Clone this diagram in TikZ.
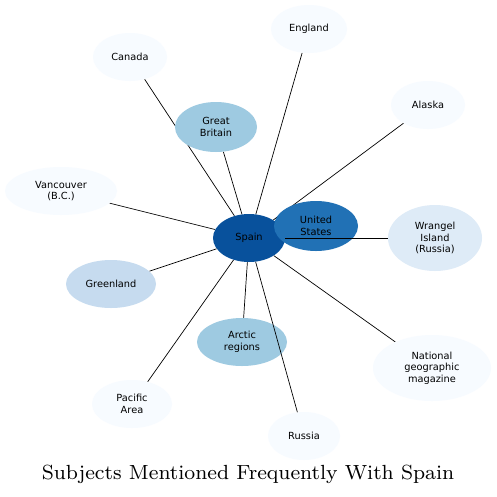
\documentclass[tikz,border=0pt]{standalone}
\usepackage{fontspec}
\newfontfamily\nodefont{DejaVu Sans}
\usetikzlibrary{shapes.geometric}
\pgfdeclarelayer{bg}
\pgfsetlayers{bg,main}
\definecolor{c1}{HTML}{08519C}
\definecolor{c2}{HTML}{2171B5}
\definecolor{c3}{HTML}{9ECAE1}
\definecolor{c4}{HTML}{C6DBEF}
\definecolor{c5}{HTML}{DEEBF7}
\definecolor{c6}{HTML}{F7FBFF}
\tikzset{
  topic/.style={ellipse, inner sep=0pt, align=center,
    font=\nodefont\fontsize{9.8}{11.6}\selectfont, text=black},
  link/.style={draw=black, line width=0.7pt},
}
\begin{document}
\begin{tikzpicture}[x=1pt,y=-1pt]
\useasboundingbox (0,0) rectangle (497,496);
\node[topic, fill=c1, minimum width=72, minimum height=48] (spain) at (249,238) {Spain};
\node[topic, fill=c6, minimum width=76, minimum height=48] (england) at (309,29) {England};
\node[topic, fill=c6, minimum width=74, minimum height=48] (canada) at (130,57) {Canada};
\node[topic, fill=c3, minimum width=82, minimum height=50] (gb) at (216,127) {Great\\Britain};
\node[topic, fill=c6, minimum width=74, minimum height=48] (alaska) at (428,105) {Alaska};
\node[topic, fill=c6, minimum width=112, minimum height=48] (vanc) at (61,191) {Vancouver\\(B.C.)};
\node[topic, fill=c5, minimum width=94, minimum height=66] (wrangel) at (435,238) {Wrangel\\Island\\(Russia)};
\node[topic, fill=c4, minimum width=90, minimum height=48] (greenland) at (111,284) {Greenland};
\node[topic, fill=c3, minimum width=90, minimum height=48] (arctic) at (242,342) {Arctic\\regions};
\node[topic, fill=c6, minimum width=118, minimum height=66] (natgeo) at (432,368) {National\\geographic\\magazine};
\node[topic, fill=c6, minimum width=80, minimum height=48] (pacific) at (132,404) {Pacific\\Area};
\node[topic, fill=c6, minimum width=72, minimum height=48] (russia) at (304,436) {Russia};
\node[topic, fill=c2, minimum width=84, minimum height=50] (us) at (316,226) {United\\States};
\begin{pgfonlayer}{bg}
\fill[white] (0,0) rectangle (497,496);
\foreach \t in {england,canada,gb,alaska,vanc,greenland,arctic,natgeo,pacific,us}
  \draw[link] (spain) -- (\t);
\end{pgfonlayer}
\draw[link] (spain) -- (wrangel);
\draw[link] (spain) -- (russia);
\node[font=\fontsize{8}{10}\selectfont, scale=2.56] (title) at (248,474) {Subjects Mentioned Frequently With Spain};
\end{tikzpicture}
\end{document}
